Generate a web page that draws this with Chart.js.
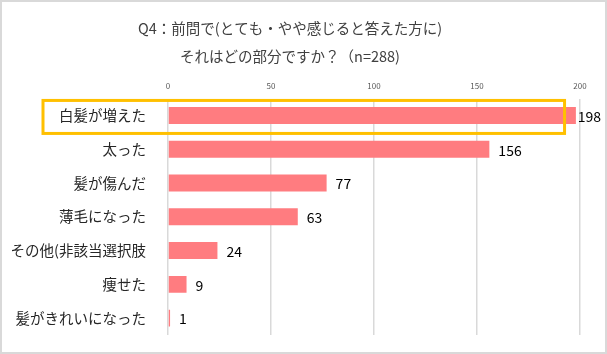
<!DOCTYPE html>
<html>
<head>
<meta charset="utf-8">
<script src="https://cdn.jsdelivr.net/npm/chart.js@4"></script>
<style>
  body { margin: 0; background: #fff; }
  #wrap { width: 607px; height: 354px; }
</style>
</head>
<body>
<div id="wrap"><canvas id="chart" width="607" height="354"></canvas></div>
<script>
// data
const categories = ['白髪が増えた', '太った', '髪が傷んだ', '薄毛になった', 'その他(非該当選択肢', '痩せた', '髪がきれいになった'];
const counts = [198, 156, 77, 63, 24, 9, 1];
const titleLines = ['Q4：前問で(とても・やや感じると答えた方に)', 'それはどの部分ですか？（n=288)'];
const highlightIndex = 0; // row framed in orange

const jpFont = '"Noto Sans CJK JP", "Noto Sans", sans-serif';

// value labels to the right of each bar
const valueLabels = {
  id: 'valueLabels',
  afterDatasetsDraw(chart) {
    const ctx = chart.ctx;
    const meta = chart.getDatasetMeta(0);
    ctx.save();
    ctx.font = '14px ' + jpFont;
    ctx.fillStyle = '#000';
    ctx.textBaseline = 'middle';
    meta.data.forEach((bar, i) => {
      const txt = String(counts[i]);
      const w = ctx.measureText(txt).width;
      let x = bar.x + 9;
      if (x + w > chart.width - 6) x = chart.width - 6 - w; // keep inside the frame
      ctx.fillText(txt, x, bar.y + 1);
    });
    ctx.restore();
  }
};

// orange frame around the highlighted row + grey frame round the figure
const frames = {
  id: 'frames',
  afterDraw(chart) {
    const ctx = chart.ctx;
    const xs = chart.scales.x, ys = chart.scales.y;
    const yc = ys.getPixelForValue(highlightIndex);
    ctx.save();
    ctx.strokeStyle = '#FFC000';
    ctx.lineWidth = 3;
    ctx.strokeRect(43, yc - 15, xs.getPixelForValue(192.5) - 43, 33);
    ctx.strokeStyle = '#d9d9d9';
    ctx.lineWidth = 2;
    ctx.strokeRect(1, 1, chart.width - 2, chart.height - 2);
    ctx.restore();
  }
};

new Chart(document.getElementById('chart'), {
  type: 'bar',
  data: {
    labels: categories,
    datasets: [{
      data: counts,
      backgroundColor: '#FF7C80',
      borderWidth: 0,
      categoryPercentage: 0.5,
      barPercentage: 1
    }]
  },
  plugins: [valueLabels, frames],
  options: {
    indexAxis: 'y',
    responsive: false,
    animation: false,
    layout: { padding: { left: 0, right: 27, top: 0, bottom: 19 } },
    plugins: {
      legend: { display: false },
      tooltip: { enabled: false },
      title: {
        display: true,
        text: titleLines,
        color: '#404040',
        font: { family: jpFont, size: 14.5, weight: 'normal', lineHeight: 1.95 },
        padding: { top: 14, bottom: 0 }
      }
    },
    scales: {
      x: {
        position: 'top',
        min: 0,
        max: 200,
        ticks: { stepSize: 50, color: '#595959', font: { family: jpFont, size: 8 }, padding: 8 },
        grid: { color: '#d9d9d9', lineWidth: 1.5, drawTicks: false },
        border: { display: false },
        afterFit(scale) { scale.height = 28; }
      },
      y: {
        ticks: { color: '#262626', font: { family: jpFont, size: 14.5 }, padding: 22 },
        grid: { display: false, drawTicks: false },
        border: { display: false },
        afterFit(scale) {
          scale.width = 168;
          scale.paddingTop = 0;
          scale.paddingBottom = 0;
        }
      }
    }
  }
});
</script>
</body>
</html>
